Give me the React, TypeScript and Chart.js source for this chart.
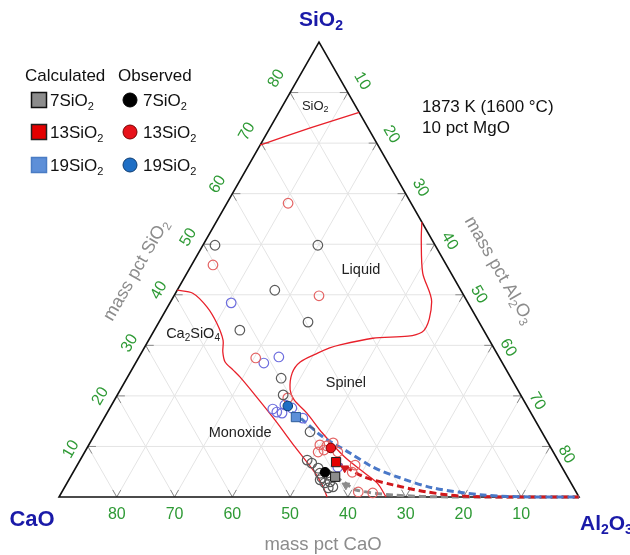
import { useEffect, useRef } from "react";
import { Chart, registerables } from "chart.js";

Chart.register(...registerables);

// Every composition is [mass pct CaO, mass pct Al2O3, mass pct SiO2] (10 pct MgO fixed, so they sum to 90)
type Comp = [number, number, number];

const gridValues = [10, 20, 30, 40, 50, 60, 70, 80];
const caoTickLabels = ["80", "70", "60", "50", "40", "30", "20", "10"];
const caoTickValues = [80, 70, 60, 50, 40, 30, 20, 10];
const sio2TickLabels = ["10", "20", "30", "40", "50", "60", "70", "80"];
const al2o3TickLabels = ["10", "20", "30", "40", "50", "60", "70", "80"];

// Phase boundaries (red lines)
const sio2Boundary: Comp[] = [
  [20.4, 0, 69.6], [10, 7, 73], [0, 13.9, 76.1],
];
const spinelBoundary: Comp[] = [
  [0, 35.6, 54.4], [1.9, 37.3, 50.8], [4.9, 40.8, 44.3], [6.2, 45.2, 38.6],
  [10.9, 46.5, 32.6], [20.0, 38.6, 31.4], [26.3, 33.6, 30.1], [28.4, 32.1, 29.5],
  [30.9, 30.6, 28.5], [34.9, 28.4, 26.7], [37.4, 28.1, 24.5], [39.4, 29.4, 21.2],
  [39.7, 31.1, 19.2], [38.8, 34.6, 16.6], [38.1, 39.2, 12.7], [36.6, 45.5, 7.9],
  [34.7, 50.6, 4.7], [33.5, 53.9, 2.6], [33.4, 56.6, 0],
];
const ca2sio4Boundary: Comp[] = [
  [49.1, 0, 40.9], [46.7, 3.0, 40.3], [45.6, 6.8, 37.6], [45.5, 10.1, 34.4],
  [46.1, 12.9, 31.0], [47.3, 14.0, 28.7], [47.9, 15.4, 26.7], [47.3, 17.6, 25.1],
  [46.8, 19.5, 23.7], [46.0, 23.8, 20.2], [45.0, 29.8, 15.2], [44.2, 35.9, 9.9],
  [43.3, 41.9, 4.8], [43.3, 44.7, 2.0], [43.6, 46.4, 0],
];

// Calculated paths (dashed)
const calc19Path: Comp[] = [
  [41.3, 31.9, 16.8], [40.2, 34.6, 15.2], [38.4, 39.7, 11.9], [35.3, 46.0, 8.7],
  [32.7, 51.4, 5.9], [29.1, 57.1, 3.8], [24.4, 63.8, 1.8], [16.4, 73.2, 0.4],
  [8, 82, 0], [0, 90, 0],
];
const calc13Path: Comp[] = [
  [38.6, 44.5, 6.9], [37.4, 46.7, 5.9], [35.1, 51.0, 3.9], [31.0, 56.6, 2.4],
  [25.8, 63.2, 1.0], [20.5, 69.3, 0.2], [12, 78, 0], [0, 90, 0],
];
const calc7Path: Comp[] = [
  [40.2, 45.8, 4.0], [39.1, 48.1, 2.8], [37.9, 50.7, 1.4], [32.0, 57.6, 0.4],
  [22.3, 67.7, 0], [0, 90, 0],
];

// Observed compositions (open circles)
const obs7Open: Comp[] = [
  [38.1, 2.1, 49.8], [20.3, 19.9, 49.8], [32.2, 16.9, 40.9], [29.6, 25.8, 34.6],
  [42.2, 14.8, 33.0], [39.8, 26.7, 23.5], [41.1, 28.7, 20.2], [40.1, 37.0, 12.9],
  [43.4, 39.3, 7.3], [42.9, 40.4, 6.7], [42.3, 42.0, 5.7], [42.5, 42.8, 4.7],
  [42.6, 43.6, 3.8], [42.6, 44.6, 2.8], [41.6, 45.4, 3.0], [41.6, 46.4, 2.0],
  [42.5, 45.7, 1.8], [43.1, 43.5, 3.4], [41.3, 44.4, 4.3],
];
const obs13Open: Comp[] = [
  [21.3, 10.6, 58.1], [40.4, 3.7, 45.9], [25.1, 25.1, 39.8], [42.2, 20.3, 27.5],
  [40.6, 29.8, 19.6], [39.7, 40.0, 10.3], [39.5, 41.2, 9.3], [38.6, 41.3, 10.1],
  [37.2, 42.1, 10.7], [37.3, 43.8, 8.9], [40.7, 40.4, 8.9], [36.8, 48.3, 4.9],
  [35.6, 48.1, 6.3], [37.7, 51.3, 1.0], [35.3, 53.9, 0.8],
];
const obs19Open: Comp[] = [
  [41.0, 10.6, 38.4], [41.3, 22.2, 26.5], [38.1, 24.2, 27.7], [43.9, 29.3, 16.8],
  [43.1, 30.3, 16.6], [44.3, 28.3, 17.4], [41.8, 30.0, 18.2], [40.9, 31.5, 17.6],
  [40.0, 34.4, 15.6], [38.8, 45.3, 5.9],
];

// Observed averages (filled circles) and calculated compositions (squares, triangles)
const obs7Mean: Comp[] = [[41.5, 43.6, 4.9]];
const obs13Mean: Comp[] = [[38.1, 42.2, 9.7]];
const obs19Mean: Comp[] = [[41.4, 30.6, 18.0]];
const calc7Point: Comp[] = [[40.2, 45.8, 4.0]];
const calc13Point: Comp[] = [[38.6, 44.5, 6.9]];
const calc19Point: Comp[] = [[41.1, 33.1, 15.8]];
const calc7Arrow: Comp[] = [[39.2, 48.5, 2.3]];
const calc13Arrow: Comp[] = [[37.7, 46.6, 5.7]];

const FONT = '"Liberation Sans", Arial, Helvetica, sans-serif';
const toXY = ([c, a, s]: Comp) => ({ x: a + s / 2, y: s, c });

type Part = [string, boolean];
function drawRich(
  ctx: CanvasRenderingContext2D, parts: Part[], x: number, y: number, size: number,
  color: string, align: "left" | "center", bold = false, rot = 0,
) {
  ctx.save();
  ctx.translate(x, y);
  ctx.rotate((rot * Math.PI) / 180);
  ctx.fillStyle = color;
  ctx.textBaseline = "alphabetic";
  ctx.textAlign = "left";
  const fontFor = (sub: boolean) => `${bold ? "bold " : ""}${sub ? Math.round(size * 0.66) : size}px ${FONT}`;
  let w = 0;
  for (const [t, sub] of parts) { ctx.font = fontFor(sub); w += ctx.measureText(t).width; }
  let cx = align === "center" ? -w / 2 : 0;
  const baseY = size * 0.36;
  for (const [t, sub] of parts) {
    ctx.font = fontFor(sub);
    ctx.fillText(t, cx, sub ? baseY + size * 0.2 : baseY);
    cx += ctx.measureText(t).width;
  }
  ctx.restore();
}

const ternaryPlugin = {
  id: "ternary",
  beforeDatasetsDraw(chart: any) {
    const ctx: CanvasRenderingContext2D = chart.ctx;
    const xs = chart.scales.x, ys = chart.scales.y;
    const P = (p: Comp) => [xs.getPixelForValue(p[1] + p[2] / 2), ys.getPixelForValue(p[2])];
    ctx.save();
    for (const v of gridValues) {
      const lines: [Comp, Comp][] = [
        [[90 - v, 0, v], [0, 90 - v, v]],
        [[v, 90 - v, 0], [v, 0, 90 - v]],
        [[90 - v, v, 0], [0, v, 90 - v]],
      ];
      for (const [p0, p1] of lines) {
        const [x0, y0] = P(p0), [x1, y1] = P(p1);
        ctx.strokeStyle = "#e4e4e4";
        ctx.lineWidth = 1;
        ctx.beginPath(); ctx.moveTo(x0, y0); ctx.lineTo(x1, y1); ctx.stroke();
        const t = 1.4 / (90 - v);
        ctx.strokeStyle = "#8a8a8a";
        ctx.beginPath();
        ctx.moveTo(x0, y0); ctx.lineTo(x0 + (x1 - x0) * t, y0 + (y1 - y0) * t);
        ctx.moveTo(x1, y1); ctx.lineTo(x1 + (x0 - x1) * t, y1 + (y0 - y1) * t);
        ctx.stroke();
      }
    }
    const [ax, ay] = P([90, 0, 0]), [bx, by] = P([0, 90, 0]), [cx, cy] = P([0, 0, 90]);
    ctx.strokeStyle = "#111";
    ctx.lineWidth = 1.6;
    ctx.beginPath(); ctx.moveTo(ax, ay); ctx.lineTo(bx, by); ctx.lineTo(cx, cy); ctx.closePath(); ctx.stroke();
    ctx.restore();
  },
  afterDatasetsDraw(chart: any) {
    const ctx: CanvasRenderingContext2D = chart.ctx;
    const xs = chart.scales.x, ys = chart.scales.y;
    const P = (p: Comp) => [xs.getPixelForValue(p[1] + p[2] / 2), ys.getPixelForValue(p[2])];
    const green = "#2e9a35";
    const gray = "#8c8c8c";
    const navy = "#1a1aa8";
    // tick labels
    caoTickValues.forEach((v, i) => {
      const [x, y] = P([v, 90 - v, 0]);
      drawRich(ctx, [[caoTickLabels[i], false]], x, y + 16, 16, green, "center");
    });
    gridValues.forEach((v, i) => {
      const [x, y] = P([90 - v, 0, v]);
      drawRich(ctx, [[sio2TickLabels[i], false]], x - 18.5 + 0.045 * v, y + 4.5 - 0.24 * v, 16, green, "center", false, -60);
    });
    gridValues.forEach((v, i) => {
      const [x, y] = P([0, v, 90 - v]);
      drawRich(ctx, [[al2o3TickLabels[i], false]], x + 15 + 0.03 * v, y - 15 + 0.28 * v, 16, green, "center", false, 60);
    });
    // axis titles
    const [bmx, bmy] = P([45, 45, 0]);
    drawRich(ctx, [["mass pct CaO", false]], bmx + 4, bmy + 46, 18.5, gray, "center");
    const [lmx, lmy] = P([45, 0, 45]);
    drawRich(ctx, [["mass pct SiO", false], ["2", true]], lmx - 54, lmy, 18, gray, "center", false, -60);
    const [rmx, rmy] = P([0, 45, 45]);
    drawRich(ctx, [["mass pct Al", false], ["2", true], ["O", false], ["3", true]], rmx + 51, rmy, 18, gray, "center", false, 60);
    // vertex labels
    const [tx, ty] = P([0, 0, 90]);
    drawRich(ctx, [["SiO", false], ["2", true]], tx + 2, ty - 24, 21, navy, "center", true);
    const [lx, ly] = P([90, 0, 0]);
    drawRich(ctx, [["CaO", false]], lx - 27, ly + 21, 22, navy, "center", true);
    const [rx, ry] = P([0, 90, 0]);
    drawRich(ctx, [["Al", false], ["2", true], ["O", false], ["3", true]], rx + 1, ry + 25, 21, navy, "left", true);
    // region labels
    const dark = "#222";
    const reg: [Part[], Comp][] = [
      [[["SiO", false], ["2", true]], [6.9, 5.6, 77.5]],
      [[["Liquid", false]], [15.2, 29.7, 45.1]],
      [[["Ca", false], ["2", true], ["SiO", false], ["4", true]], [50.6, 7.0, 32.4]],
      [[["Spinel", false]], [29.0, 38.3, 22.7]],
      [[["Monoxide", false]], [52.2, 24.9, 12.9]],
    ];
    reg.forEach(([parts, p], i) => {
      const [x, y] = P(p);
      drawRich(ctx, parts, x, y, i === 0 ? 13 : 14.5, dark, "center");
    });
    // conditions
    drawRich(ctx, [["1873 K (1600 \u00B0C)", false]], 422, 106, 17, "#111", "left");
    drawRich(ctx, [["10 pct MgO", false]], 422, 127, 17, "#111", "left");
    // legend
    drawRich(ctx, [["Calculated", false]], 25, 75, 17, "#111", "left");
    drawRich(ctx, [["Observed", false]], 118, 75, 17, "#111", "left");
    const rows = [
      { y: 100, label: "7", sq: "#8c8c8c", sqb: "#111", ci: "#000", cib: "#000" },
      { y: 132, label: "13", sq: "#e30000", sqb: "#222", ci: "#e8121a", cib: "#700" },
      { y: 165, label: "19", sq: "#5d8fd8", sqb: "#4a7cc4", ci: "#1f6fc5", cib: "#0e3c70" },
    ];
    for (const r of rows) {
      ctx.save();
      ctx.fillStyle = r.sq; ctx.strokeStyle = r.sqb; ctx.lineWidth = 1.5;
      ctx.fillRect(31.5, r.y - 7.5, 15, 15); ctx.strokeRect(31.5, r.y - 7.5, 15, 15);
      ctx.beginPath(); ctx.arc(130, r.y, 7, 0, Math.PI * 2);
      ctx.fillStyle = r.ci; ctx.fill(); ctx.strokeStyle = r.cib; ctx.lineWidth = 1; ctx.stroke();
      ctx.restore();
      drawRich(ctx, [[r.label + "SiO", false], ["2", true]], 50, r.y, 17, "#111", "left");
      drawRich(ctx, [[r.label + "SiO", false], ["2", true]], 143, r.y, 17, "#111", "left");
    }
  },
};

export default function App() {
  const ref = useRef<HTMLCanvasElement>(null);
  useEffect(() => {
    if (!ref.current) return;
    const boundary = (d: Comp[]) => ({
      data: d.map(toXY), showLine: true, borderColor: "#e8202a", borderWidth: 1.3,
      pointRadius: 0, tension: 0.3, fill: false, order: 4, clip: false as any,
    });
    const dashed = (d: Comp[], color: string) => ({
      data: d.map(toXY), showLine: true, borderColor: color, borderWidth: 3,
      borderDash: [7, 4], pointRadius: 0, tension: 0.3, fill: false, order: 3, clip: false as any,
    });
    const open = (d: Comp[], color: string) => ({
      data: d.map(toXY), showLine: false, pointStyle: "circle", pointRadius: 4.8,
      pointBorderWidth: 1.2, pointBorderColor: color, pointBackgroundColor: "rgba(255,255,255,0)",
      borderColor: color, order: 2, clip: false as any,
    });
    const filled = (d: Comp[], style: string, fillC: string, border: string, r: number, rot = 0) => ({
      data: d.map(toXY), showLine: false, pointStyle: style, pointRadius: r, pointRotation: rot,
      pointBorderWidth: 1, pointBorderColor: border, pointBackgroundColor: fillC,
      borderColor: border, order: 1, clip: false as any,
    });
    const chart = new Chart(ref.current, {
      type: "scatter",
      data: {
        datasets: [
          boundary(sio2Boundary),
          boundary(spinelBoundary),
          boundary(ca2sio4Boundary),
          dashed(calc19Path, "#4a78c8"),
          dashed(calc13Path, "#d0181c"),
          dashed(calc7Path, "#8c8c8c"),
          open(obs7Open, "#5a5a5a"),
          open(obs13Open, "#e46464"),
          open(obs19Open, "#6e6ede"),
          filled(calc7Arrow, "triangle", "#8c8c8c", "#8c8c8c", 4.5, 180),
          filled(calc13Arrow, "triangle", "#d0181c", "#d0181c", 4.5, 180),
          filled(obs19Mean, "circle", "#1f6fc5", "#0e3c70", 4.8),
          filled(calc19Point, "rect", "#5d8fd8", "#2e5c9a", 6.5),
          filled(obs13Mean, "circle", "#e8121a", "#700", 4.8),
          filled(calc13Point, "rect", "#e30000", "#222", 6.5),
          filled(obs7Mean, "circle", "#000", "#000", 4.8),
          filled(calc7Point, "rect", "#8c8c8c", "#111", 6.5),
        ] as any,
      },
      options: {
        animation: false,
        responsive: false,
        events: [],
        layout: { padding: { left: 59, right: 51, top: 42, bottom: 58 } },
        scales: {
          x: { type: "linear", min: 0, max: 90, display: false },
          y: { type: "linear", min: 0, max: 90, display: false },
        },
        plugins: { legend: { display: false }, tooltip: { enabled: false } },
      },
      plugins: [ternaryPlugin],
    });
    return () => chart.destroy();
  }, []);
  return (
    <div style={{ position: "fixed", left: 0, top: 0, width: 630, height: 555, background: "#fff" }}>
      <canvas ref={ref} width={630} height={555} style={{ width: 630, height: 555 }} />
    </div>
  );
}
